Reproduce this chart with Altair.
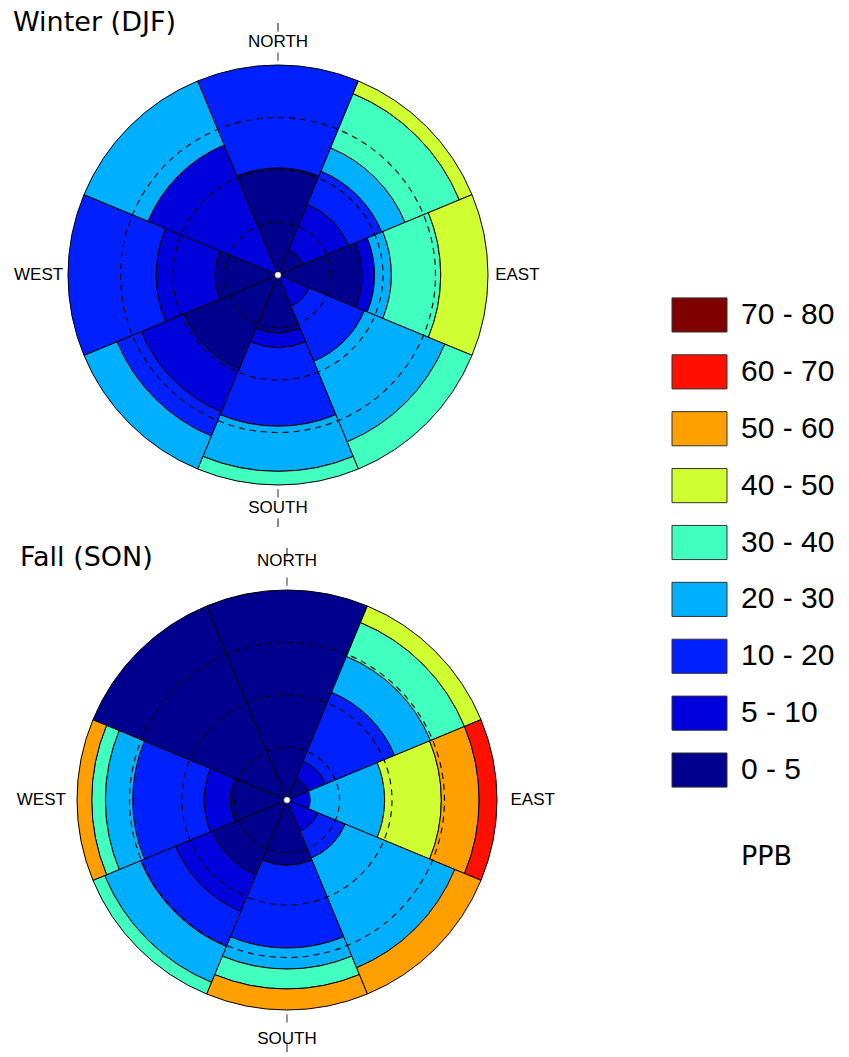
import math

import altair as alt
import pandas as pd

# Concentration classes (ppb) and their colours, lowest class first
bins = ["0 - 5", "5 - 10", "10 - 20", "20 - 30", "30 - 40",
        "40 - 50", "50 - 60", "60 - 70", "70 - 80"]
bin_colors = ["#00008F", "#0000DC", "#0020FF", "#00B0FF", "#40FFBF",
              "#CFFF30", "#FF9F00", "#FF1000", "#800000"]

directions = ["N", "NE", "E", "SE", "S", "SW", "W", "NW"]
compass_labels = ["NORTH", "EAST", "SOUTH", "WEST"]
compass_angles = [0, 90, 180, 270]
grid_pct = [25, 50, 75]

# Share (%) of hours in each concentration class, per wind sector
winter_pct = {
    "N":  [51, 0, 49, 0, 0, 0, 0, 0, 0],
    "NE": [13, 23.5, 17, 12, 28, 6.5, 0, 0, 0],
    "E":  [40, 6, 0, 8, 23.5, 22.5, 0, 0, 0],
    "SE": [0, 16, 28.5, 41.5, 14, 0, 0, 0, 0],
    "S":  [27.5, 7, 37.5, 21.5, 6.5, 0, 0, 0, 0],
    "SW": [48.5, 22, 12.5, 17, 0, 0, 0, 0, 0],
    "W":  [30, 28, 42, 0, 0, 0, 0, 0, 0],
    "NW": [0, 67, 0, 33, 0, 0, 0, 0, 0],
}
fall_pct = {
    "N":  [100, 0, 0, 0, 0, 0, 0, 0, 0],
    "NE": [11, 9, 35.5, 18.5, 17.5, 8.5, 0, 0, 0],
    "E":  [0, 11, 0, 35.5, 0, 27, 18, 8.5, 0],
    "SE": [0, 16, 14, 56.5, 0, 0, 13.5, 0, 0],
    "S":  [31, 0, 39.5, 10, 9.5, 0, 10, 0, 0],
    "SW": [38.5, 19, 18, 18.5, 6, 0, 0, 0, 0],
    "W":  [27, 12.5, 34, 13, 6.5, 0, 7, 0, 0],
    "NW": [100, 0, 0, 0, 0, 0, 0, 0, 0],
}

SECTOR = 360 / len(directions)
ROSE_R = 210

theta_scale = alt.Scale(domain=[0, 360], range=[0, 2 * math.pi], nice=False)
radius_scale = alt.Scale(type="linear", domain=[0, 100], range=[0, ROSE_R], nice=False)
color_scale = alt.Scale(domain=bins, range=bin_colors)


def band_table(pct):
    rows = []
    for i, d in enumerate(directions):
        cum = 0.0
        for b, share in zip(bins, pct[d]):
            if share > 0:
                rows.append({
                    "bin": b,
                    "t0": i * SECTOR - SECTOR / 2, "t1": i * SECTOR + SECTOR / 2,
                    "r0": cum, "r1": cum + share,
                })
            cum += share
    return pd.DataFrame(rows)


def polar(chart, cx, cy):
    """Arc encodings shared by every wedge-like layer of one rose."""
    return chart.encode(
        x=alt.value(cx), y=alt.value(cy),
        theta=alt.Theta("t0:Q", scale=theta_scale, stack=None),
        theta2="t1:Q",
        radius=alt.Radius("r1:Q", scale=radius_scale, stack=None),
        radius2="r0:Q",
    )


def rose(pct, cx, cy, label_gap):
    bands = polar(alt.Chart(band_table(pct)).mark_arc(stroke="black", strokeWidth=1), cx, cy).encode(
        color=alt.Color("bin:N", scale=color_scale, legend=None),
    )
    # dashed reference circles at 25 / 50 / 75 %
    grid_df = pd.DataFrame({"t0": [0] * len(grid_pct), "t1": [360] * len(grid_pct),
                            "r0": [0] * len(grid_pct), "r1": grid_pct})
    grid = polar(alt.Chart(grid_df).mark_arc(
        filled=False, fillOpacity=0, stroke="black", strokeWidth=1.1, strokeDash=[6, 5],
    ), cx, cy)
    # small axis ticks on the north-south line, outside the rose
    ticks_df = pd.DataFrame({
        "t0": [-0.2, -0.2, 179.8, 179.8],
        "t1": [0.2, 0.2, 180.2, 180.2],
        "r0": [102, 116, 102, 116],
        "r1": [106, 120, 106, 120],
    })
    ticks = polar(alt.Chart(ticks_df).mark_arc(color="#777777"), cx, cy)
    # compass words sit a little further out left/right than above/below
    label_df = pd.DataFrame({
        "label": compass_labels, "angle": compass_angles,
        "lr": [100 + label_gap, 103 + label_gap, 100 + label_gap, 103 + label_gap],
    })
    labels = alt.Chart(label_df).mark_text(
        font="Liberation Sans", fontSize=17, baseline="middle", align="center", color="black",
    ).encode(
        x=alt.value(cx), y=alt.value(cy),
        theta=alt.Theta("angle:Q", scale=theta_scale, stack=None),
        radius=alt.Radius("lr:Q", scale=radius_scale, stack=None),
        text="label:N",
    )
    hub = alt.Chart(pd.DataFrame({"c": [0]})).mark_circle(
        size=45, color="white", opacity=1, stroke="black", strokeWidth=0.6,
    ).encode(x=alt.value(cx), y=alt.value(cy))
    return [bands, grid, ticks, labels, hub]


def title_text(txt, x, y):
    return alt.Chart(pd.DataFrame({"t": [txt]})).mark_text(
        font="DejaVu Sans", fontSize=27, align="left", baseline="alphabetic", color="black",
    ).encode(x=alt.value(x), y=alt.value(y), text="t:N")


legend_scale = alt.Scale(type="band", domain=bins[::-1], range=[286.5, 798.5],
                         paddingInner=0.4, paddingOuter=0.2)
legend_df = pd.DataFrame({"bin": bins})
legend_boxes = alt.Chart(legend_df).mark_rect(stroke="#333333", strokeWidth=1).encode(
    x=alt.value(672), x2=alt.value(727),
    y=alt.Y("bin:N", scale=legend_scale, axis=None),
    color=alt.Color("bin:N", scale=color_scale, legend=None),
)
legend_text = alt.Chart(legend_df).mark_text(
    font="Liberation Sans", fontSize=30, align="left", baseline="middle", color="black",
).encode(
    x=alt.value(741),
    y=alt.Y("bin:N", scale=legend_scale, axis=None),
    text="bin:N",
)

layers = (
    rose(winter_pct, 278, 275, 11)
    + rose(fall_pct, 287, 800, 14)
    + [title_text("Winter (DJF)", 13, 31), title_text("Fall (SON)", 20, 566),
       title_text("PPB", 741, 865), legend_boxes, legend_text]
)

chart = alt.layer(*layers).properties(
    width=849, height=1057, padding=0, autosize=alt.AutoSizeParams(type="none"),
).configure_view(strokeWidth=0)

chart.save("out.html", embed_options={"renderer": "svg", "actions": False})
